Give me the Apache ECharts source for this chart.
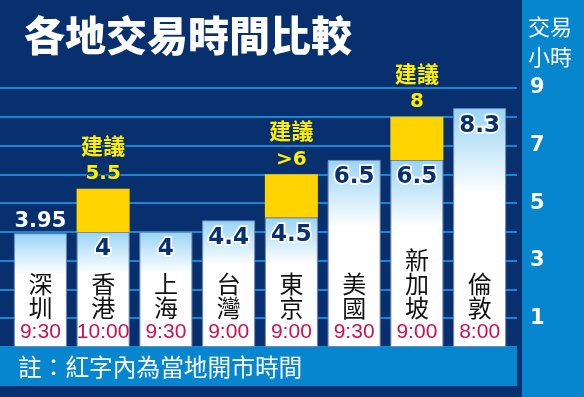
<!DOCTYPE html>
<html><head><meta charset="utf-8">
<script src="https://cdn.jsdelivr.net/npm/echarts@6/dist/echarts.min.js"></script>
<style>html,body{margin:0;padding:0;background:#08306f;}#c{width:584px;height:397px;}</style>
</head><body><div id="c"></div>
<script>
const cities = ['深圳','香港','上海','台灣','東京','美國','新加坡','倫敦'];
const openTimes = ['9:30','10:00','9:30','9:00','9:00','9:30','9:00','8:00'];
const hours = [3.95, 4, 4, 4.4, 4.5, 6.5, 6.5, 8.3];
const suggested = [null, 5.5, null, null, 6, null, 8, null];
const suggestedText = ['', '5.5', '', '', '>6', '', '8', ''];
const yTicks = [1, 3, 5, 7, 9];

const NAVY = '#08306f';
const CJK = '"Noto Sans CJK TC","Noto Sans CJK SC",sans-serif';
const NUM = '"Liberation Sans",Arial,sans-serif';
const WIDE = '"DejaVu Sans",sans-serif';

const chart = echarts.init(document.getElementById('c'));

const baseData = hours.map((v, i) => {
  const item = { value: v };
  if (i === 0) {
    item.label = { position: 'top', distance: 1, fontSize: 21, color: '#fff', textBorderColor: NAVY, textBorderWidth: 3 };
  }
  return item;
});
const extraData = suggested.map((s, i) => s == null ? null : {
  value: +(s - hours[i]).toFixed(2),
  label: { show: true, formatter: '{a|建議}\n{b|' + suggestedText[i] + '}' }
});

chart.setOption({
  backgroundColor: NAVY,
  animation: false,
  graphic: [
    { type: 'rect', shape: { x: 522, y: 0, width: 62, height: 397 }, style: { fill: '#0586cf' }, z: -10 },
    { type: 'rect', shape: { x: 0, y: 347, width: 517, height: 39 }, style: { fill: '#0586cf' }, z: 10 },
    { type: 'text', x: 18, y: 367, style: { text: '註：紅字內為當地開市時間', fill: '#fff', font: '23.7px ' + CJK, textVerticalAlign: 'middle' }, z: 11 },
    { type: 'text', x: 528, y: 27, style: { text: '交易', fill: '#fff', font: '22px ' + CJK, textVerticalAlign: 'middle' } },
    { type: 'text', x: 528, y: 57, style: { text: '小時', fill: '#fff', font: '22px ' + CJK, textVerticalAlign: 'middle' } }
  ],
  title: {
    text: '各地交易時間比較', left: 19, top: 10,
    textStyle: { color: '#fff', fontSize: 41, fontWeight: 900, fontFamily: CJK,
      textShadowColor: '#8a8aa8', textShadowOffsetX: 2, textShadowOffsetY: 2, textShadowBlur: 0 }
  },
  grid: [
    { left: 9, right: 73, top: 88, bottom: 50 },
    { left: 0, right: 67, top: 88, bottom: 50 }
  ],
  xAxis: [
    { type: 'category', gridIndex: 0, data: cities,
      axisLine: { show: false }, axisTick: { show: false },
      axisLabel: { inside: true, margin: 3, interval: 0,
        formatter: (v, i) => '{c|' + v.split('').join('\n') + '}\n{t|' + openTimes[i] + '}',
        rich: {
          c: { fontSize: 24, lineHeight: 24, color: '#111', fontFamily: CJK, align: 'center' },
          t: { fontSize: 21, lineHeight: 24, color: '#cc1350', fontFamily: NUM, align: 'center' }
        } },
      z: 5 },
    { type: 'category', gridIndex: 1, data: cities, show: false }
  ],
  yAxis: [
    { type: 'value', gridIndex: 0, min: 0, max: 9, interval: 1, show: false },
    { type: 'value', gridIndex: 1, min: 0, max: 9, interval: 1, position: 'right',
      axisLine: { show: false }, axisTick: { show: false },
      splitLine: { show: true, lineStyle: { color: '#1687d2', width: 2 } },
      axisLabel: { margin: 13, color: '#fff', fontSize: 21, fontWeight: 'bold', fontFamily: WIDE,
        formatter: v => yTicks.includes(v) ? String(v) : '' } }
  ],
  series: [
    { type: 'bar', stack: 's', xAxisIndex: 0, yAxisIndex: 0, barWidth: 53, data: baseData,
      itemStyle: {
        color: { type: 'linear', x: 0, y: 0, x2: 0, y2: 1,
          colorStops: [{ offset: 0, color: '#98d4f5' }, { offset: 0.36, color: '#ffffff' }, { offset: 1, color: '#ffffff' }] },
        borderColor: '#7688b4', borderWidth: 1 },
      label: { show: true, position: 'insideTop', distance: 6, color: NAVY, fontSize: 23, fontWeight: 'bold',
        fontFamily: WIDE, textBorderColor: '#fff', textBorderWidth: 3.5 },
      z: 3 },
    { type: 'bar', stack: 's', xAxisIndex: 0, yAxisIndex: 0, barWidth: 53, data: extraData,
      itemStyle: { color: '#ffd400' },
      label: { show: false, position: 'top', distance: 2,
        rich: {
          a: { fontSize: 22, fontWeight: 'bold', color: '#ffee00', fontFamily: CJK, lineHeight: 31,
               textBorderColor: NAVY, textBorderWidth: 2 },
          b: { fontSize: 20, fontWeight: 'bold', color: '#ffee00', fontFamily: WIDE, lineHeight: 26,
               textBorderColor: NAVY, textBorderWidth: 2 }
        } },
      z: 3 }
  ]
});
</script></body></html>
